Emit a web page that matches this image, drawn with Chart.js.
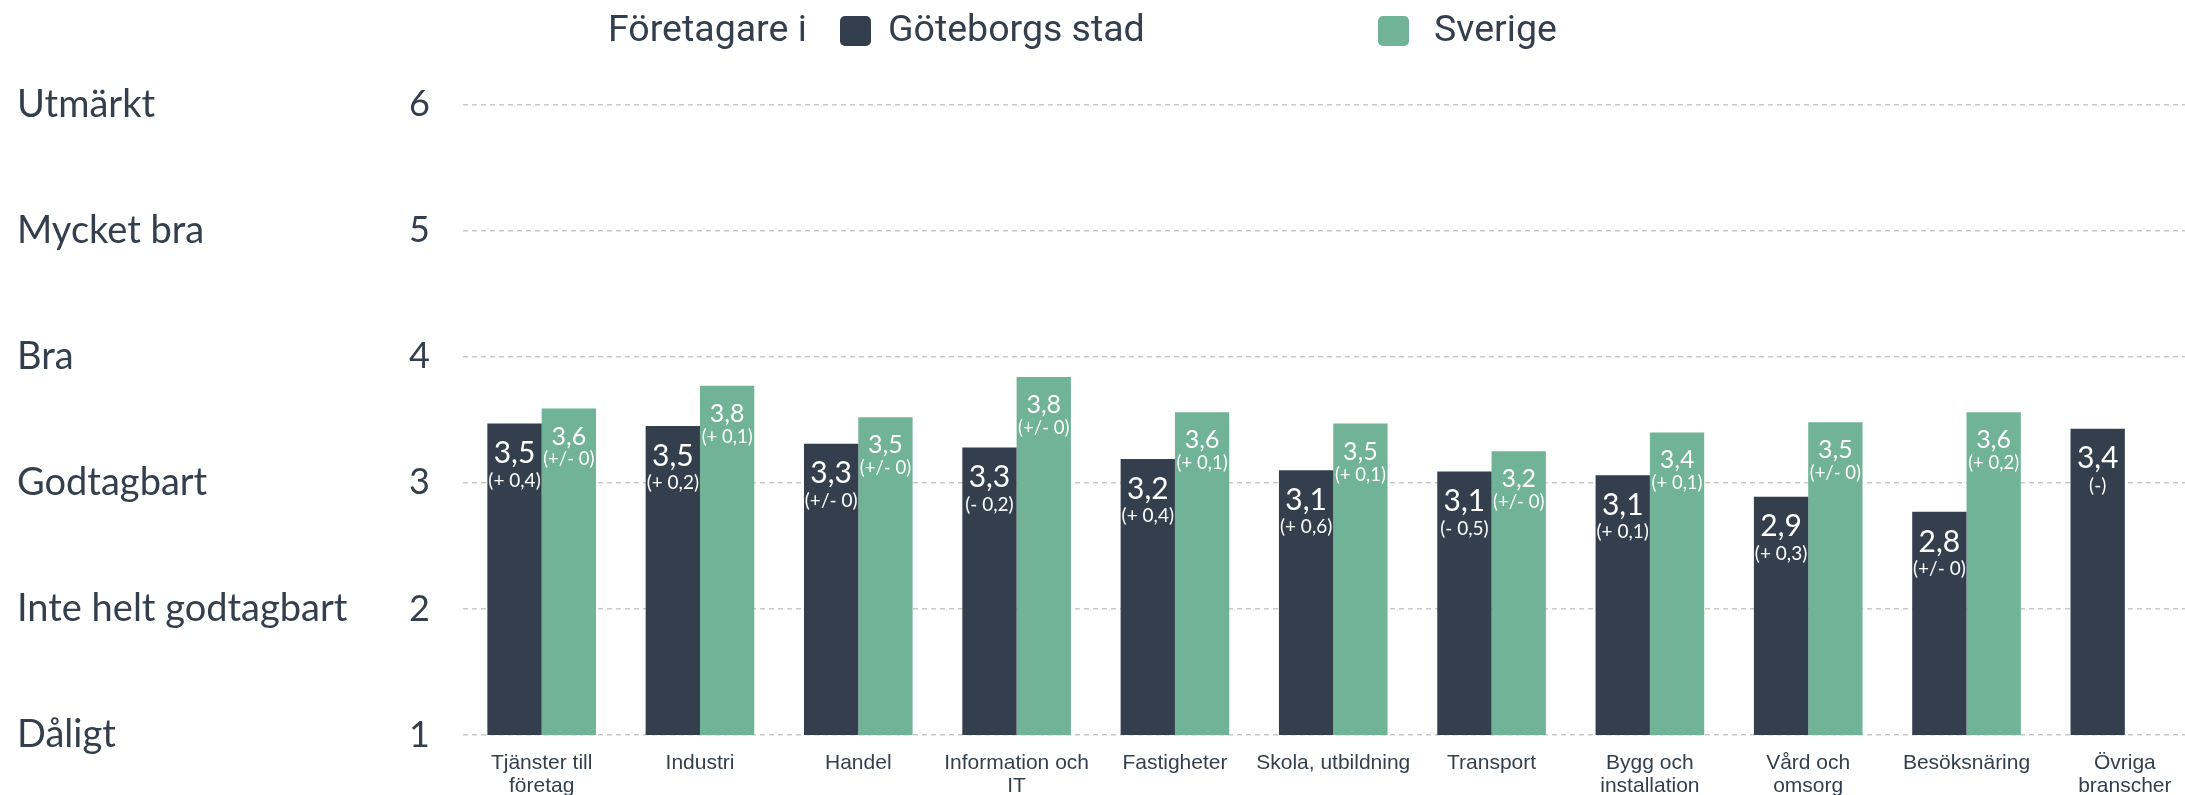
<!DOCTYPE html>
<html>
<head>
<meta charset="utf-8">
<script src="https://cdn.jsdelivr.net/npm/chart.js@4"></script>
<style>
  html, body { margin: 0; padding: 0; background: #ffffff; overflow: hidden; width: 2185px; height: 795px; }
  canvas { display: block; }
</style>
</head>
<body>
<canvas id="c" width="2220" height="820"></canvas>
<script>
// ---- data ----
const categories = [
  ['Tjänster till', 'företag'], 'Industri', 'Handel', ['Information och', 'IT'],
  'Fastigheter', 'Skola, utbildning', 'Transport', ['Bygg och', 'installation'],
  ['Vård och', 'omsorg'], 'Besöksnäring', ['Övriga', 'branscher']
];
const gbgValues = [3.47, 3.45, 3.31, 3.28, 3.19, 3.10, 3.09, 3.06, 2.89, 2.77, 3.43];
const seValues  = [3.59, 3.77, 3.52, 3.84, 3.56, 3.47, 3.25, 3.40, 3.48, 3.56, 1.0];
const gbgText   = ['3,5', '3,5', '3,3', '3,3', '3,2', '3,1', '3,1', '3,1', '2,9', '2,8', '3,4'];
const gbgChange = ['(+ 0,4)', '(+ 0,2)', '(+/- 0)', '(- 0,2)', '(+ 0,4)', '(+ 0,6)', '(- 0,5)', '(+ 0,1)', '(+ 0,3)', '(+/- 0)', '(-)'];
const seText    = ['3,6', '3,8', '3,5', '3,8', '3,6', '3,5', '3,2', '3,4', '3,5', '3,6', ''];
const seChange  = ['(+/- 0)', '(+ 0,1)', '(+/- 0)', '(+/- 0)', '(+ 0,1)', '(+ 0,1)', '(+/- 0)', '(+ 0,1)', '(+/- 0)', '(+ 0,2)', ''];
const yTicks    = [1, 2, 3, 4, 5, 6];
const levelLabels = ['Dåligt', 'Inte helt godtagbart', 'Godtagbart', 'Bra', 'Mycket bra', 'Utmärkt'];
const seriesNames = ['Göteborgs stad', 'Sverige'];
const legendPrefix = 'Företagare i';

// ---- styles ----
const DARK = '#333f4d';
const GREEN = '#70b397';
const TEXT = '#333f4d';

const barLabelPlugin = {
  id: 'barLabels',
  afterDatasetsDraw(chart) {
    const ctx = chart.ctx;
    const texts = [[gbgText, gbgChange], [seText, seChange]];
    const styles = [
      { mainFont: '30px Lato', mainDy: 30, subFont: '19px Lato', subDy: 57 },
      { mainFont: '25px Lato', mainDy: 28, subFont: '18.5px Lato', subDy: 51 }
    ];
    ctx.save();
    ctx.fillStyle = '#ffffff';
    ctx.textAlign = 'center';
    ctx.textBaseline = 'middle';
    chart.data.datasets.forEach((ds, di) => {
      const meta = chart.getDatasetMeta(di);
      const st = styles[di];
      meta.data.forEach((el, i) => {
        const main = texts[di][0][i];
        const sub = texts[di][1][i];
        if (main) { ctx.font = st.mainFont; ctx.fillText(main, el.x, el.y + st.mainDy); }
        if (sub) { ctx.font = st.subFont; ctx.fillText(sub, el.x, el.y + st.subDy); }
      });
    });
    ctx.restore();
  }
};

const legendPlugin = {
  id: 'customLegend',
  afterDraw(chart, args, opts) {
    const ctx = chart.ctx;
    ctx.save();
    ctx.font = '37.5px Roboto';
    ctx.fillStyle = TEXT;
    ctx.textBaseline = 'middle';
    ctx.textAlign = 'left';
    const cy = opts.y;
    ctx.fillText(legendPrefix, opts.prefixX, cy + 1);
    chart.data.datasets.forEach((ds, i) => {
      const bx = opts.boxX[i];
      ctx.fillStyle = ds.backgroundColor;
      ctx.beginPath();
      ctx.roundRect(bx, cy - 15, 31, 30, 5);
      ctx.fill();
      ctx.fillStyle = TEXT;
      ctx.fillText(ds.label, opts.textX[i], cy + 1);
    });
    ctx.restore();
  }
};

new Chart(document.getElementById('c'), {
  type: 'bar',
  data: {
    labels: categories,
    datasets: [
      { label: seriesNames[0], data: gbgValues, backgroundColor: DARK },
      { label: seriesNames[1], data: seValues, backgroundColor: GREEN, minBarLength: 2 }
    ]
  },
  plugins: [barLabelPlugin, legendPlugin],
  options: {
    responsive: false,
    animation: false,
    devicePixelRatio: 1,
    categoryPercentage: 0.686,
    barPercentage: 1.0,
    layout: { padding: { left: 17, top: 104.6, right: 16, bottom: 0 } },
    plugins: {
      legend: { display: false },
      tooltip: { enabled: false },
      customLegend: { y: 31, prefixX: 608, boxX: [840, 1378], textX: [888, 1434] }
    },
    scales: {
      x: {
        grid: { display: false },
        border: { display: false },
        ticks: {
          color: TEXT,
          font: { family: '"Liberation Sans", Arial, sans-serif', size: 21, lineHeight: 1.1 },
          padding: 9,
          maxRotation: 0,
          autoSkip: false
        },
        afterFit(scale) { scale.height = 85; }
      },
      y: {
        position: 'left',
        weight: 1,
        min: 1,
        max: 6,
        afterBuildTicks(scale) { scale.ticks = yTicks.map(v => ({ value: v })); },
        grid: { color: '#c9c9c9', lineWidth: 1.5, drawTicks: false },
        border: { display: false, dash: [5, 4] },
        ticks: {
          color: TEXT,
          font: { family: 'Lato', size: 36 },
          padding: 32.5
        },
        afterFit(scale) { scale.width = 72.5; }
      },
      yText: {
        position: 'left',
        weight: 2,
        min: 1,
        max: 6,
        afterBuildTicks(scale) { scale.ticks = yTicks.map(v => ({ value: v })); },
        grid: { display: false, drawTicks: false },
        border: { display: false },
        ticks: {
          color: TEXT,
          font: { family: 'Lato', size: 38 },
          crossAlign: 'far',
          padding: 0,
          callback: (v) => levelLabels[yTicks.indexOf(v)]
        },
        afterFit(scale) { scale.width = 373; }
      }
    }
  }
});
</script>
</body>
</html>
